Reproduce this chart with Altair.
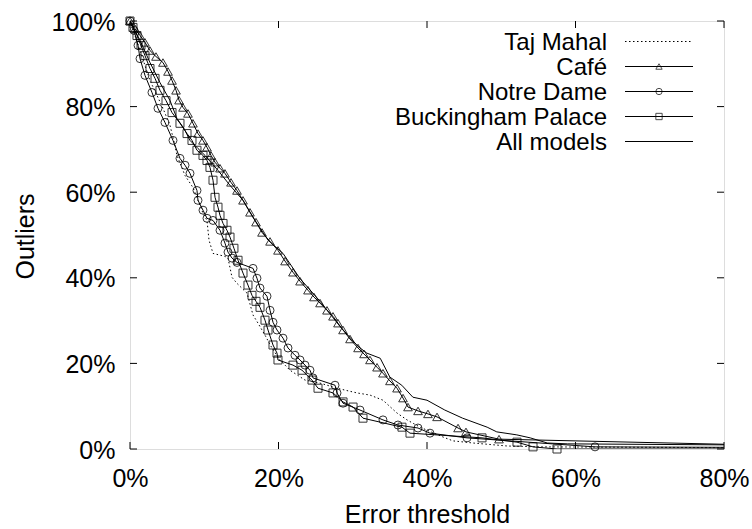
import altair as alt
import pandas as pd

# Fraction of outliers (%) versus error threshold (%), one curve per model
SERIES = ["Taj Mahal", "Café", "Notre Dame", "Buckingham Palace", "All models"]

taj_x = [0, 0.67, 1.35, 2.02, 2.69, 3.64, 4.44, 5.39, 5.9, 6.33, 7.41, 8.48, 9.16, 9.83,
         10.37, 10.64, 11.18, 12.79, 13.20, 13.74, 14.41, 15.76, 16.57, 17.24, 18.18,
         19.12, 20.2, 21.55, 23.57, 25.59, 27.88, 30.57, 32.32, 34.07, 35.96, 37.31,
         39.06, 42.16, 43.5, 46.2, 50.8, 55.2, 95]
taj_y = [100, 96.6, 93.1, 89.6, 86.1, 82.6, 79.6, 75.6, 72.0, 68.6, 63.9, 61.1, 58.1, 55.1,
         53.4, 48.8, 45.7, 45.0, 44.6, 40.1, 38.7, 36.4, 31.3, 29.4, 26.6,
         23.6, 20.8, 18.4, 16.1, 15.4, 14.2, 13.1, 12.6, 11.4, 8.4, 6.8,
         5.1, 2.8, 1.9, 1.4, 0.7, 0.5, 0.2]

cafe_x = [0, 0.67, 1.35, 2.02, 2.69, 3.50, 4.44, 5.12, 5.66, 6.20, 6.60, 7.14, 7.81, 8.48,
          9.16, 9.83, 10.37, 10.91, 11.45, 12.12, 12.79, 13.60, 14.41, 15.22, 16.16, 16.97,
          17.78, 18.86, 19.93, 20.88, 21.95, 22.90, 23.97, 24.78, 25.59, 26.53, 27.34,
          28.01, 28.69, 29.63, 30.71, 31.52, 32.32, 33.27, 34.07, 35.01, 35.96, 36.77,
          37.44, 38.79, 40.13, 41.35, 44.18, 45.25, 49.70, 98]
cafe_y = [100, 98.2, 96.6, 95.0, 93.1, 91.7, 90.3, 88.2, 86.1, 83.8, 81.5, 79.8, 78.4, 76.1,
          73.7, 72.1, 70.5, 68.6, 67.0, 65.6, 64.4, 62.3, 60.4, 58.1, 55.3, 53.0,
          50.6, 48.5, 46.4, 43.9, 41.3, 39.2, 37.1, 35.5, 34.1, 32.4, 31.0,
          29.4, 27.8, 25.7, 23.6, 22.2, 20.8, 19.1, 17.7, 15.9, 14.2, 11.9,
          9.8, 8.9, 8.2, 7.5, 4.9, 4.0, 2.3, 0.4]

notre_x = [0, 0.54, 1.08, 1.35, 2.02, 2.96, 3.77, 4.71, 5.79, 6.73, 7.41, 8.08, 9.02, 9.16,
           9.83, 10.37, 11.18, 12.12, 12.79, 13.20, 13.74, 14.41, 16.57, 17.1, 17.51, 18.45,
           18.86, 19.26, 19.8, 20.61, 21.28, 22.22, 22.90, 23.57, 24.24, 24.65, 27.61,
           27.88, 28.69, 30.98, 34.07, 36.09, 38.79, 40.40, 45.39, 62.63, 95]
notre_y = [100, 97.8, 94.3, 91.2, 87.3, 83.3, 79.6, 76.3, 72.1, 67.9, 66.3, 64.4, 60.4, 58.1,
           55.8, 53.9, 53.4, 51.1, 48.1, 46.0, 44.6, 43.6, 42.2, 39.9, 37.6, 35.7,
           32.4, 29.6, 27.8, 25.9, 23.6, 21.9, 20.8, 19.6, 18.4, 16.6, 14.9,
           13.1, 10.7, 9.1, 6.8, 5.6, 4.9, 3.7, 2.6, 0.5, 0.3]

palace_x = [0, 0.40, 0.94, 1.48, 2.02, 2.69, 3.37, 4.04, 4.85, 5.66, 6.73, 7.68, 8.35, 9.02,
            9.83, 10.37, 10.77, 11.18, 11.45, 11.85, 12.12, 12.53, 13.06, 13.47, 14.0, 14.55,
            15.22, 15.89, 16.43, 16.97, 17.51, 18.18, 18.59, 19.26, 19.80, 19.93, 21.95,
            23.17, 24.51, 25.32, 27.34, 28.69, 30.04, 31.38, 36.63, 37.71, 47.41, 52.12,
            54.28, 57.51, 95]
palace_y = [100, 98.5, 96.6, 94.3, 91.9, 88.9, 86.6, 83.8, 81.4, 78.6, 76.1, 73.7, 72.1, 69.8,
            68.6, 67.4, 65.8, 62.8, 58.8, 56.5, 54.6, 52.7, 51.1, 49.5, 46.9, 44.1,
            41.1, 38.3, 35.9, 34.5, 33.1, 30.1, 27.8, 24.3, 22.4, 20.8, 19.6,
            18.4, 16.1, 14.2, 13.1, 11.0, 9.8, 7.2, 5.1, 3.7, 2.6, 1.6,
            0.5, 0, 0]

all_x = [0, 1.35, 2.69, 4.04, 5.39, 6.33, 7.27, 8.08, 9.16, 10.10, 11.04, 11.85, 13.47, 15.22,
         16.84, 18.59, 20.61, 22.9, 25.6, 28.3, 30.7, 31.9, 33.7, 35.0, 36.6, 38.1, 40.0,
         42.4, 44.8, 48.1, 49.4, 52.1, 53.9, 56.2, 58.9, 95]
all_y = [100, 95.5, 90.3, 85.6, 81.4, 77.2, 74.9, 72.1, 70.2, 68.6, 66.7, 65.1, 61.6, 58.1,
         53.4, 48.8, 45.7, 39.8, 34.5, 28.6, 24.0, 22.4, 21.2, 16.8, 14.9, 12.1, 11.4,
         9.1, 7.2, 5.1, 4.0, 3.3, 2.6, 1.4, 1.2, 0.8]

X_TICKS = [0, 20, 40, 60, 80]
Y_TICKS = [0, 20, 40, 60, 80, 100]

W, H = 594, 428
FONT = "Liberation Sans"
FS = 25
KEY_FS = 24
TICK = 7

x_enc = alt.X(
    "x:Q",
    scale=alt.Scale(domain=[0, 80], nice=False, zero=False),
    axis=alt.Axis(values=X_TICKS, labelExpr="datum.value + '%'", grid=False, ticks=False,
                  domain=False, labelFontSize=FS, labelPadding=37, labelBaseline="alphabetic",
                  labelFlush=False, labelColor="black", titleFontSize=FS,
                  titleFontWeight="normal", titleBaseline="alphabetic", titleY=73,
                  titleColor="black"),
    title="Error threshold",
)
y_enc = alt.Y(
    "y:Q",
    scale=alt.Scale(domain=[0, 100], nice=False, zero=False),
    axis=alt.Axis(values=Y_TICKS, labelExpr="datum.value + '%'", grid=False, ticks=False,
                  domain=False, labelFontSize=FS, labelPadding=15, labelBaseline="alphabetic",
                  labelOffset=9, labelFlush=False, labelColor="black", titleFontSize=FS,
                  titleFontWeight="normal", titleAngle=270, titleBaseline="alphabetic",
                  titleAlign="center", titleX=-97, titleY=215, titleColor="black"),
    title="Outliers",
)


def frame(xs, ys):
    return pd.DataFrame({"x": xs, "y": ys})


def curve(xs, ys, dash=None):
    kw = dict(clip=True, color="black", strokeWidth=1)
    if dash:
        kw["strokeDash"] = dash
    return alt.Chart(frame(xs, ys)).mark_line(**kw).encode(x=x_enc, y=y_enc)


def markers(xs, ys, shape, size):
    return (
        alt.Chart(frame(xs, ys))
        .transform_filter(alt.datum.x <= 80)
        .mark_point(shape=shape, filled=False, size=size, color="black", strokeWidth=1,
                    opacity=0.8)
        .encode(x=x_enc, y=y_enc)
    )


DOT = [1.5, 2.5]
layers = [
    curve(taj_x, taj_y, DOT),
    curve(cafe_x, cafe_y), markers(cafe_x, cafe_y, "triangle-up", 75),
    curve(notre_x, notre_y), markers(notre_x, notre_y, "circle", 64),
    curve(palace_x, palace_y), markers(palace_x, palace_y, "square", 64),
    curve(all_x, all_y),
]

# Inward ticks on all four sides of the frame
tx = pd.DataFrame({"x": X_TICKS})
ty = pd.DataFrame({"y": Y_TICKS})
rule = dict(color="black", strokeWidth=1)
layers += [
    alt.Chart(tx).mark_rule(**rule).encode(x=x_enc, y=alt.value(H), y2=alt.value(H - TICK)),
    alt.Chart(tx).mark_rule(**rule).encode(x=x_enc, y=alt.value(0), y2=alt.value(TICK)),
    alt.Chart(ty).mark_rule(**rule).encode(y=y_enc, x=alt.value(0), x2=alt.value(TICK)),
    alt.Chart(ty).mark_rule(**rule).encode(y=y_enc, x=alt.value(W), x2=alt.value(W - TICK)),
]

# Key in the upper right: label, then a line sample with its marker
KEY_TEXT_X, KEY_L0, KEY_L1 = 477, 495, 563
key_styles = [
    (DOT, None),
    (None, "triangle-up"),
    (None, "circle"),
    (None, "square"),
    (None, None),
]
for i, (name, (dash, shape)) in enumerate(zip(SERIES, key_styles)):
    row_y = 20.5 + 25 * i
    lab = pd.DataFrame({"label": [name]})
    layers.append(
        alt.Chart(lab).mark_text(align="right", baseline="alphabetic", fontSize=KEY_FS,
                                 font=FONT, color="black")
        .encode(text="label:N", x=alt.value(KEY_TEXT_X), y=alt.value(row_y + 8))
    )
    kw = dict(color="black", strokeWidth=1)
    if dash:
        kw["strokeDash"] = dash
    layers.append(
        alt.Chart(lab).mark_rule(**kw)
        .encode(x=alt.value(KEY_L0), x2=alt.value(KEY_L1), y=alt.value(row_y))
    )
    if shape:
        layers.append(
            alt.Chart(lab).mark_point(shape=shape, filled=False, size=40, color="black",
                                      strokeWidth=1)
            .encode(x=alt.value((KEY_L0 + KEY_L1) / 2), y=alt.value(row_y))
        )

chart = (
    alt.layer(*layers)
    .properties(
        width=W, height=H,
        autosize=alt.AutoSizeParams(type="none"),
        padding={"left": 130, "top": 21, "right": 28, "bottom": 80},
        background="white",
    )
    .configure_view(stroke="black", strokeWidth=1)
    .configure(font=FONT)
)

chart.save("out.html", embed_options={"renderer": "svg", "actions": False})
